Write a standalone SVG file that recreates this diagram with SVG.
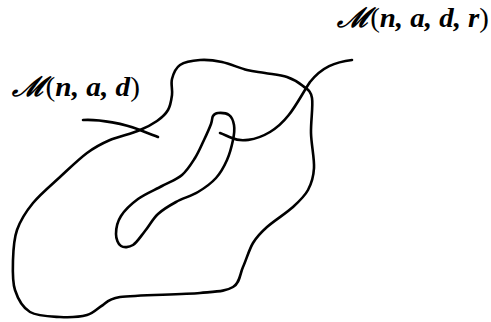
<svg xmlns="http://www.w3.org/2000/svg" width="491" height="322" viewBox="0 0 491 322">
<style>
.c{fill:none;stroke:#000;stroke-width:2.6;stroke-linecap:round;stroke-linejoin:round}
.l{font-family:"Liberation Serif","DejaVu Serif",serif;font-style:italic;font-weight:bold;font-size:27px;fill:#000}
.u{font-style:normal;font-weight:normal}
</style>
<rect width="491" height="322" fill="#fff"/>
<g id="outer-region">
<path class="c" d="M 140,130 C 147.8,126.8 152.3,124.3 157,121 C 161.7,117.7 165.5,114.3 168,110 C 170.5,105.7 171.3,100.2 172,95 C 172.7,89.8 170.7,84 172,79 C 173.3,74 175.3,68.2 180,65 C 184.7,61.8 193,60.5 200,60 C 207,59.5 214.2,60.3 222,62 C 229.8,63.7 239.8,68.2 247,70 C 254.2,71.8 258.3,71.8 265,73 C 271.7,74.2 280.7,74.8 287,77 C 293.3,79.2 298.8,82.5 303,86 C 307.2,89.5 310.7,90.2 312,98 C 313.3,105.8 310.7,121.3 311,133 C 311.3,144.7 314.5,158.5 314,168 C 313.5,177.5 311.5,183.5 308,190 C 304.5,196.5 299.8,200.8 293,207 C 286.2,213.2 273.7,221 267,227 C 260.3,233 257,236.3 253,243 C 249,249.7 246.3,259.7 243,267 C 239.7,274.3 240.2,282.7 233,287 C 225.8,291.3 218.8,291.3 200,293 C 181.2,294.7 136.2,295 120,297 C 108,299 107,302 103,305 C 97.5,308 94.2,313 87,315 C 79.8,317 69.5,317.5 60,317 C 50.5,316.5 37.5,316.5 30,312 C 22.5,307.5 17.8,298.7 15,290 C 12.2,281.3 12.7,270 13,260 C 13.3,250 13.7,239.5 17,230 C 20.3,220.5 25.8,211.8 33,203 C 40.2,194.2 51,185.3 60,177 C 69,168.7 78.7,159.2 87,153 C 95.3,146.8 101.2,143.8 110,140 C 118.8,136.2 132.2,133.8 140,130 Z"/>
</g>
<g id="inner-region">
<path class="c" d="M 218,113 C 220.7,112.8 226.3,113 229,115 C 231.7,117 233.3,120.8 234,125 C 234.7,129.2 234.2,134.2 233,140 C 231.8,145.8 229.8,153.7 227,160 C 224.2,166.3 220.8,172.7 216,178 C 211.2,183.3 204.7,188 198,192 C 191.3,196 182.7,198.3 176,202 C 169.3,205.7 163.2,209.2 158,214 C 152.8,218.8 149.2,225.8 145,231 C 140.8,236.2 137,242.5 133,245 C 129,247.5 123.8,247.8 121,246 C 118.2,244.2 116,239 116,234 C 116,229 117.3,221.8 121,216 C 124.7,210.2 131.2,204 138,199 C 144.8,194 154.7,190 162,186 C 169.3,182 176.5,179.7 182,175 C 187.5,170.3 191.3,163.8 195,158 C 198.7,152.2 201.3,145.7 204,140 C 206.7,134.3 209.5,128 211,124 C 212.5,120 211.8,117.8 213,116 C 214.2,114.2 215.3,113.2 218,113 Z"/>
</g>
<g id="label-mnad">
<text class="l" x="12" y="96" textLength="128" lengthAdjust="spacingAndGlyphs">ℳ<tspan class="u">(</tspan>n, a, d<tspan class="u">)</tspan></text>
</g>
<g id="label-mnadr">
<text class="l" x="337" y="27" textLength="152" lengthAdjust="spacingAndGlyphs">ℳ<tspan class="u">(</tspan>n, a, d, r<tspan class="u">)</tspan></text>
</g>
<g id="connectors">
<path class="c" d="M 83,120 C 100,119 125,124 140,130 C 147,133 153,135 158,137"/>
<path class="c" d="M 352,60 C 335,62 322,67 310,82 C 298,100 290,120 270,132 C 255,141 240,142 232,138 C 227,136 223,134 220,133"/>
</g>
</svg>
